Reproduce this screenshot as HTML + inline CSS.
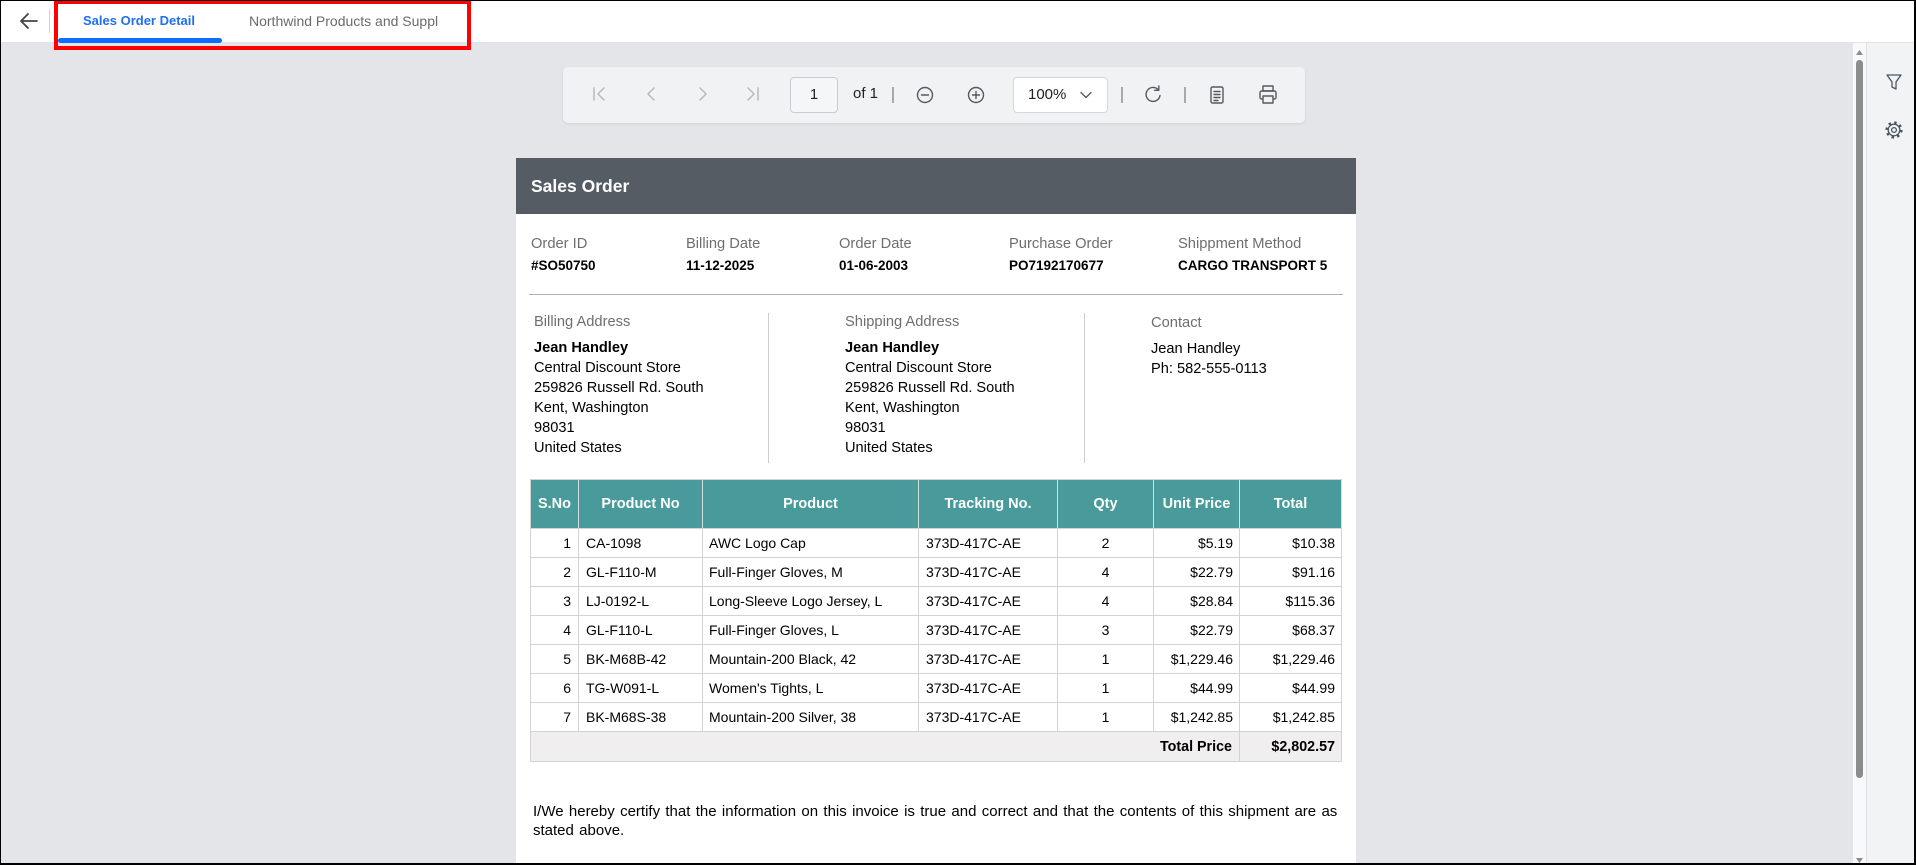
<!DOCTYPE html>
<html><head><meta charset="utf-8"><style>
*{margin:0;padding:0;box-sizing:border-box}
html,body{width:1916px;height:865px;overflow:hidden;background:#fff}
body{position:relative;font-family:"Liberation Sans",Arial,sans-serif;color:#000}
.a{position:absolute;white-space:nowrap}
.lbl{font-size:14.7px;line-height:20px;color:#6e6e6e}
.val{font-size:13.5px;line-height:20px;font-weight:bold;color:#000}
.adr{font-size:14.6px;line-height:20px;color:#000}
.tbl{position:absolute;left:530px;top:479px;width:812px;border-left:1px solid #d3d3d3;border-top:1px solid #d3d3d3}
.row{display:flex;height:29px;border-bottom:1px solid #d3d3d3}
.row.h{height:49px;background:#489b9a}
.row.t{height:30px;background:#f0eeef}
.c{border-right:1px solid #d3d3d3;height:100%;font-size:14px;line-height:27px;padding-top:1px;overflow:hidden;white-space:nowrap;color:#000}
.h .c{font-size:14.5px;font-weight:bold;color:#fff;text-align:center;line-height:48px;padding:0;border-right-color:#d6dede}
.t .c{font-weight:bold;font-size:14.3px;line-height:27px;padding-top:2px}
.w1{width:48px;text-align:right;padding-right:7px}
.w2{width:124px;padding-left:7px}
.w3{width:216px;padding-left:6px}
.w4{width:139px;padding-left:7px}
.w5{width:96px;text-align:center}
.w6{width:86px;text-align:right;padding-right:6px}
.w7{width:102px;text-align:right;padding-right:6px}
</style></head><body>

<!-- background areas -->
<div class="a" style="left:0;top:43px;width:1853px;height:822px;background:#e4e5e9"></div>
<div class="a" style="left:0;top:42px;width:1916px;height:1px;background:#e2e3e6"></div>

<!-- toolbar -->
<div class="a" style="left:563px;top:67px;width:742px;height:56px;background:#f1f2f4;border-radius:5px;box-shadow:0 1px 2px rgba(0,0,0,0.08)"></div>
<div class="a" style="left:790px;top:77px;width:48px;height:36px;border:1px solid #c9cbcf;border-radius:4px;background:#f5f6f7;font-size:15px;line-height:34px;text-align:center;color:#222">1</div>
<div class="a" style="left:853px;top:84px;font-size:15px;line-height:20px;color:#222">of 1</div>
<div class="a" style="left:1013px;top:77px;width:95px;height:36px;border:1px solid #d5d7da;border-radius:4px;background:#fff"></div>
<div class="a" style="left:1028px;top:85px;font-size:15px;line-height:20px;color:#222">100%</div>

<!-- report page -->
<div class="a" style="left:516px;top:158px;width:840px;height:707px;background:#fff"></div>
<div class="a" style="left:516px;top:158px;width:840px;height:56px;background:#555c64"></div>
<div class="a" style="left:531px;top:158px;font-size:17.5px;line-height:56px;font-weight:bold;color:#fff">Sales Order</div>

<div class="a lbl" style="left:531px;top:234px">Order ID</div>
<div class="a lbl" style="left:686px;top:234px">Billing Date</div>
<div class="a lbl" style="left:839px;top:234px">Order Date</div>
<div class="a lbl" style="left:1009px;top:234px">Purchase Order</div>
<div class="a lbl" style="left:1178px;top:234px">Shippment Method</div>
<div class="a val" style="left:531px;top:256px">#SO50750</div>
<div class="a val" style="left:686px;top:256px">11-12-2025</div>
<div class="a val" style="left:839px;top:256px">01-06-2003</div>
<div class="a val" style="left:1009px;top:256px">PO7192170677</div>
<div class="a val" style="left:1178px;top:256px">CARGO TRANSPORT 5</div>

<div class="a" style="left:529px;top:294px;width:814px;height:1px;background:#b0b0b0"></div>

<div class="a lbl" style="left:534px;top:312px">Billing Address</div>
<div class="a adr" style="left:534px;top:338px"><b>Jean Handley</b><br>Central Discount Store<br>259826 Russell Rd. South<br>Kent, Washington<br>98031<br>United States</div>
<div class="a" style="left:768px;top:313px;width:1px;height:150px;background:#cfcfcf"></div>
<div class="a lbl" style="left:845px;top:312px">Shipping Address</div>
<div class="a adr" style="left:845px;top:338px"><b>Jean Handley</b><br>Central Discount Store<br>259826 Russell Rd. South<br>Kent, Washington<br>98031<br>United States</div>
<div class="a" style="left:1084px;top:313px;width:1px;height:150px;background:#cfcfcf"></div>
<div class="a lbl" style="left:1151px;top:313px">Contact</div>
<div class="a adr" style="left:1151px;top:339px">Jean Handley<br>Ph: 582-555-0113</div>

<div class="tbl">
 <div class="row h"><div class="c w1" style="padding:0">S.No</div><div class="c w2" style="padding:0">Product No</div><div class="c w3" style="padding:0">Product</div><div class="c w4" style="padding:0">Tracking No.</div><div class="c w5">Qty</div><div class="c w6" style="padding:0;text-align:center">Unit Price</div><div class="c w7" style="padding:0;text-align:center">Total</div></div>
 <div class="row"><div class="c w1">1</div><div class="c w2">CA-1098</div><div class="c w3">AWC Logo Cap</div><div class="c w4">373D-417C-AE</div><div class="c w5">2</div><div class="c w6">$5.19</div><div class="c w7">$10.38</div></div>
 <div class="row"><div class="c w1">2</div><div class="c w2">GL-F110-M</div><div class="c w3">Full-Finger Gloves, M</div><div class="c w4">373D-417C-AE</div><div class="c w5">4</div><div class="c w6">$22.79</div><div class="c w7">$91.16</div></div>
 <div class="row"><div class="c w1">3</div><div class="c w2">LJ-0192-L</div><div class="c w3">Long-Sleeve Logo Jersey, L</div><div class="c w4">373D-417C-AE</div><div class="c w5">4</div><div class="c w6">$28.84</div><div class="c w7">$115.36</div></div>
 <div class="row"><div class="c w1">4</div><div class="c w2">GL-F110-L</div><div class="c w3">Full-Finger Gloves, L</div><div class="c w4">373D-417C-AE</div><div class="c w5">3</div><div class="c w6">$22.79</div><div class="c w7">$68.37</div></div>
 <div class="row"><div class="c w1">5</div><div class="c w2">BK-M68B-42</div><div class="c w3">Mountain-200 Black, 42</div><div class="c w4">373D-417C-AE</div><div class="c w5">1</div><div class="c w6">$1,229.46</div><div class="c w7">$1,229.46</div></div>
 <div class="row"><div class="c w1">6</div><div class="c w2">TG-W091-L</div><div class="c w3">Women's Tights, L</div><div class="c w4">373D-417C-AE</div><div class="c w5">1</div><div class="c w6">$44.99</div><div class="c w7">$44.99</div></div>
 <div class="row"><div class="c w1">7</div><div class="c w2">BK-M68S-38</div><div class="c w3">Mountain-200 Silver, 38</div><div class="c w4">373D-417C-AE</div><div class="c w5">1</div><div class="c w6">$1,242.85</div><div class="c w7">$1,242.85</div></div>
 <div class="row t"><div class="c" style="width:709px;text-align:right;padding-right:7px">Total Price</div><div class="c w7">$2,802.57</div></div>
</div>

<div class="a" style="left:533px;top:802px;font-size:15px;word-spacing:1.15px;line-height:19px;color:#000">I/We hereby certify that the information on this invoice is true and correct and that the contents of this shipment are as<br>stated above.</div>

<!-- scrollbar and right panel -->
<div class="a" style="left:1853px;top:43px;width:13px;height:822px;background:#f9f9fb"></div>
<div class="a" style="left:1856px;top:60px;width:7px;height:718px;background:#8c8c8c;border-radius:4px"></div>
<div class="a" style="left:1866px;top:43px;width:50px;height:822px;background:#f2f3f5;border-left:1px solid #e0e1e4"></div>

<!-- header tabs -->
<div class="a" style="left:83px;top:11px;font-size:13px;line-height:20px;font-weight:bold;color:#1f6ff0">Sales Order Detail</div>
<div class="a" style="left:249px;top:11px;font-size:14px;line-height:20px;color:#6b6b6b">Northwind Products and Suppl</div>
<div class="a" style="left:58px;top:38px;width:164px;height:5px;background:#0d6efd;border-radius:3px"></div>
<div class="a" style="left:49px;top:9px;width:1px;height:24px;background:#d0d0d0"></div>

<!-- icons -->
<svg class="a" style="left:0;top:0" width="1916" height="865" viewBox="0 0 1916 865" fill="none">
 <path d="M37 21 H21 M28 14 L21 21 L28 28" stroke="#444" stroke-width="1.8" stroke-linecap="round" stroke-linejoin="round"/>
 <g stroke="#b3b5b8" stroke-width="1.4" stroke-linecap="round" stroke-linejoin="round">
  <path d="M594 88 V100 M604 88 L598 94 L604 100"/>
  <path d="M654 88 L648 94 L654 100"/>
  <path d="M700 88 L706 94 L700 100"/>
  <path d="M748 88 L754 94 L748 100 M758 88 V100"/>
 </g>
 <g stroke="#8e9196" stroke-width="1.5">
  <path d="M893 87 V103 M1122 87 V103 M1185 87 V103"/>
 </g>
 <g stroke="#555a60" stroke-width="1.4" stroke-linecap="round" stroke-linejoin="round">
  <circle cx="925" cy="95" r="7.5"/><path d="M921.5 95 H928.5"/>
  <circle cx="976" cy="95" r="7.5"/><path d="M972.5 95 H979.5 M976 91.5 V98.5"/>
  <path d="M1081 92.5 L1086 97.5 L1091 92.5"/>
  <path d="M1158.5 90 A7 7 0 1 0 1160 95.5"/><path d="M1158.8 86 L1158.8 90.3 L1154.6 90.3"/>
  <rect x="1211" y="87" width="12" height="16" rx="1.5"/><path d="M1214 91.5 H1220 M1214 94.5 H1220 M1214 97.5 H1220 M1214 100.5 H1218"/>
  <rect x="1263" y="86" width="10" height="5"/><rect x="1260" y="91" width="16" height="8" rx="1.5"/><rect x="1263" y="96" width="10" height="7" fill="#f1f2f4"/>
 </g>
 <path d="M1856 55 H1863 L1859.5 50 Z M1856 858 H1863 L1859.5 863 Z" fill="#8c8c8c"/>
 <path d="M1887 75 H1901 L1896 82 V89 L1892 87 V82 Z" stroke="#4c5661" stroke-width="1.3" stroke-linejoin="round"/>
 <circle cx="1894" cy="130" r="7.3" stroke="#4c5661" stroke-width="2.6" stroke-dasharray="2.4 3.33"/>
 <circle cx="1894" cy="130" r="5.8" fill="#f2f3f5" stroke="#4c5661" stroke-width="1.3"/>
 <circle cx="1894" cy="130" r="2.4" stroke="#4c5661" stroke-width="1.3"/>
</svg>

<!-- red highlight box -->
<div class="a" style="left:54px;top:0;width:417px;height:50px;border:4px solid #ff0000"></div>
<!-- outer frame -->
<div class="a" style="left:0;top:0;width:1916px;height:865px;border-left:1px solid #000;border-top:1px solid #000;border-right:2px solid #000;border-bottom:2px solid #000"></div>
</body></html>
